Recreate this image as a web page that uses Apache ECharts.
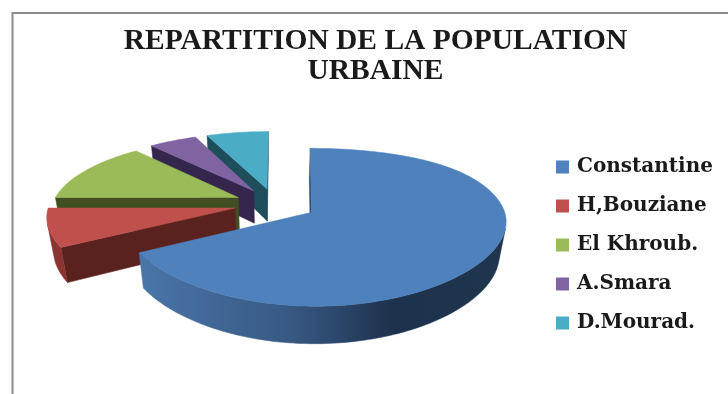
<!DOCTYPE html>
<html><head><meta charset="utf-8">
<style>html,body{margin:0;padding:0;background:#fff}#c{width:728px;height:394px;filter:blur(0.5px)}</style>
<script src="https://cdn.jsdelivr.net/npm/echarts@6/dist/echarts.min.js"></script>
</head><body><div id="c"></div>
<script>
const chartTitle = "REPARTITION DE LA POPULATION\nURBAINE";
const categories = ["Constantine","H,Bouziane","El Khroub.","A.Smara","D.Mourad."];
const values = [67, 8, 13.5, 5, 6.5];
const topColors = ["#4f81bd","#c0504d","#9bbb59","#8064a2","#4bacc6"];
const faceColors = ["#2f4c74","#5a221f","#424f23","#35264d","#1e4d5c"];
const total = values.reduce((a,b)=>a+b,0);

// oblique view of the pie: perspective plane + extrusion
const V = {cx:275, cy:204, sxL:186, sxR:191, sy:73, p:0.185, pxFront:0.1, q:0.03, depth:34, explode:0.22};
function proj(X,Y,z){
  const w = 1 + V.p*Y + V.q*z;
  let shrink;
  if(Y<=0) shrink = V.pxFront*Y;
  else if(X<0) shrink = V.p*Y;
  else shrink = V.pxFront*Y - 0.08*Y*Y;
  const wx = 1 + shrink + V.q*z;
  return [V.cx + (X<0?V.sxL:V.sxR)*X/wx, V.cy + (-V.sy*Y + V.depth*z)/w];
}
function area(pts){
  let s=0;
  for(let i=0;i<pts.length;i++){const a=pts[i],b=pts[(i+1)%pts.length];s+=a[0]*b[1]-b[0]*a[1];}
  return s;
}
function sliceShapes(idx, value){
  let before=0; for(let i=0;i<idx;i++) before+=values[i];
  const a0=before/total*2*Math.PI, a1=(before+value)/total*2*Math.PI, mid=(a0+a1)/2;
  const ox=V.explode*Math.sin(mid), oy=V.explode*Math.cos(mid);
  const rim=t=>[ox+Math.sin(t), oy+Math.cos(t)];
  const n=Math.max(4,Math.ceil((a1-a0)/(Math.PI/120)));
  const arc=[]; for(let i=0;i<=n;i++) arc.push(rim(a0+(a1-a0)*i/n));
  const apex=[ox,oy];
  const children=[];
  const quad=(A,B)=>[proj(A[0],A[1],0),proj(B[0],B[1],0),proj(B[0],B[1],1),proj(A[0],A[1],1)];
  const fill=f=>({fill:f,stroke:f,lineWidth:0.5});
  // flat cut faces
  [[apex,arc[0]],[arc[n],apex]].forEach(e=>{
    const q=quad(e[0],e[1]);
    if(area(q)<-60) children.push({type:'polygon',shape:{points:q},style:fill(faceColors[idx])});
  });
  // outer wall: consecutive visible stretches
  let run=[];
  const flush=()=>{
    if(run.length>1){
      const pts=run.map(p=>proj(p[0],p[1],0)).concat(run.slice().reverse().map(p=>proj(p[0],p[1],1)));
      let f=faceColors[idx];
      if(idx===0) f=new echarts.graphic.LinearGradient(0,0,1,0,[
        {offset:0,color:'#4a76a9'},{offset:0.42,color:'#375883'},
        {offset:0.7,color:'#1c314b'},{offset:1,color:'#20364f'}]);
      if(idx===1) f='#8a3532';
      children.push({type:'polygon',shape:{points:pts},style:fill(f)});
    }
    run=[];
  };
  for(let i=0;i<n;i++){
    if(area(quad(arc[i],arc[i+1]))<0){ if(!run.length) run.push(arc[i]); run.push(arc[i+1]); }
    else flush();
  }
  flush();
  // top surface
  const top=[apex].concat(arc).map(p=>proj(p[0],p[1],0));
  children.push({type:'polygon',shape:{points:top},style:fill(topColors[idx])});
  return {type:'group',children};
}
const chart=echarts.init(document.getElementById('c'),null,{renderer:'canvas'});
chart.setOption({
  animation:false,
  backgroundColor:'#fff',
  title:{text:chartTitle,left:370.5,top:21,textAlign:'center',
    textStyle:{fontFamily:'Liberation Serif',fontWeight:'bold',fontSize:29.5,lineHeight:30,color:'#1a1a1a'}},
  legend:{orient:'vertical',left:551,top:150,itemWidth:13,itemHeight:13,itemGap:15,icon:'rect',
    selectedMode:false,data:categories,
    textStyle:{fontFamily:'DejaVu Serif',fontWeight:'bold',fontSize:20,lineHeight:24,color:'#1a1a1a',padding:[0,0,0,3]}},
  graphic:[{type:'polyline',shape:{points:[[12.5,394],[12.5,13],[728,13]]},silent:true,
    style:{stroke:'#8c8c8c',lineWidth:2,fill:null}}],
  series:categories.map((name,i)=>({
    type:'custom',name,coordinateSystem:'none',silent:true,z:10-i,
    itemStyle:{color:topColors[i]},
    data:[[values[i]]],
    renderItem:(params,api)=>sliceShapes(i,api.value(0))
  }))
});
</script></body></html>
